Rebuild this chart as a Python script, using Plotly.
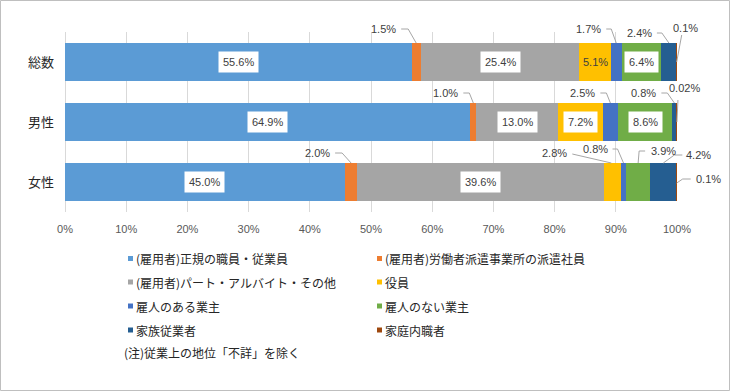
import plotly.graph_objects as go

# ---------------- data ----------------
categories = ["総数", "男性", "女性"]
series_names = [
    "(雇用者)正規の職員・従業員",
    "(雇用者)労働者派遣事業所の派遣社員",
    "(雇用者)パート・アルバイト・その他",
    "役員",
    "雇人のある業主",
    "雇人のない業主",
    "家族従業者",
    "家庭内職者",
]
seikiki = [55.6, 64.9, 45.0]
haken = [1.5, 1.0, 2.0]
part = [25.4, 13.0, 39.6]
yakuin = [5.1, 7.2, 2.8]
yatoi_ari = [1.7, 2.5, 0.8]
yatoi_nashi = [6.4, 8.6, 3.9]
kazoku = [2.4, 0.8, 4.2]
naishoku = [0.1, 0.02, 0.1]
value_labels = [
    ["55.6%", "64.9%", "45.0%"],
    ["1.5%", "1.0%", "2.0%"],
    ["25.4%", "13.0%", "39.6%"],
    ["5.1%", "7.2%", "2.8%"],
    ["1.7%", "2.5%", "0.8%"],
    ["6.4%", "8.6%", "3.9%"],
    ["2.4%", "0.8%", "4.2%"],
    ["0.1%", "0.02%", "0.1%"],
]
x_tick_vals = [0, 10, 20, 30, 40, 50, 60, 70, 80, 90, 100]
note_text = "(注)従業上の地位「不詳」を除く"

series_values = [seikiki, haken, part, yakuin, yatoi_ari, yatoi_nashi, kazoku, naishoku]

# ---------------- style ----------------
colors = ["#5B9BD5", "#ED7D31", "#A5A5A5", "#FFC000", "#4472C4", "#70AD47", "#255E91", "#9E480E"]
W, H = 731, 392
ML, MR, MT, MB = 65, 54, 32, 180
PW, PH = W - ML - MR, H - MT - MB
ypos = [2, 1, 0]
YMIN, YMAX = -0.5, 2.5
BAR_W = 0.62
JP = "Noto Sans CJK JP"
NUM = "Liberation Sans"
LBL_COLOR = "#404040"
LEADER = "#A6A6A6"

fig = go.Figure()
for name, vals, col in zip(series_names, series_values, colors):
    fig.add_trace(go.Bar(
        x=vals, y=ypos, orientation="h", name=name, width=BAR_W,
        marker=dict(color=col, line=dict(width=0)), showlegend=False,
        hovertemplate=name + ": %{x}<extra></extra>",
    ))

# normalized positions (100% stacked)
totals = [sum(s[i] for s in series_values) for i in range(3)]
centers = []
for si, vals in enumerate(series_values):
    row = []
    for ci in range(3):
        start = sum(series_values[k][ci] for k in range(si)) / totals[ci] * 100
        w = vals[ci] / totals[ci] * 100
        row.append(start + w / 2)
    centers.append(row)

# paper-coordinate helpers
def data_to_px(xd, yd):
    return ML + xd / 100.0 * PW, MT + (YMAX - yd) / (YMAX - YMIN) * PH

def paper_x(p):
    return (p - ML) / PW

def paper_y(q):
    return (MT + PH - q) / PH

annotations = []
shapes = []

# inside labels (large segments)
for si, vals in enumerate(series_values):
    for ci in range(3):
        if vals[ci] >= 5:
            boxed = vals[ci] >= 6
            annotations.append(dict(
                x=centers[si][ci], y=ypos[ci], xref="x", yref="y",
                text=value_labels[si][ci], showarrow=False,
                font=dict(family=NUM, size=11, color=LBL_COLOR),
                bgcolor="white" if boxed else "rgba(0,0,0,0)", borderpad=4,
            ))

# callouts: (series, category, leader points px rel to tip at bar centre, text offset px, xanchor)
callouts = [
    (1, 0, [(-15, -33), (-8, -33), (0, -19)], (-18, -33), "right"),
    (4, 0, [(-10, -33), (-5, -33), (0, -19)], (-13, -33), "right"),
    (6, 0, [(-12, -29), (-7, -29), (0, -19)], (-15, -29), "right"),
    (7, 0, [(5, -27), (0, 0)], (9, -34), "center"),
    (1, 1, [(-10, -29), (-4, -29), (0, -19)], (-13, -29), "right"),
    (4, 1, [(-10, -29), (-4, -29), (0, -19)], (-13, -29), "right"),
    (6, 1, [(-13, -29), (-7, -29), (0, -19)], (-16, -29), "right"),
    (7, 1, [(1, -22), (0, 0)], (8, -34), "center"),
    (1, 2, [(-16, -29), (-9, -29), (0, -19)], (-19, -29), "right"),
    (3, 2, [(-40, -28), (-1, -19)], (-43, -29), "right"),
    (4, 2, [(-11, -33), (-6, -33), (0, -19)], (-14, -33), "right"),
    (5, 2, [(7, -31), (1, -31), (0, -19)], (11, -31), "left"),
    (6, 2, [(19, -27), (11, -27), (0, -19)], (21, -27), "left"),
    (7, 2, [(14, -3), (6, -3), (0, 1)], (17, -3), "left"),
]
for si, ci, pts, toff, xa in callouts:
    tipx, tipy = data_to_px(centers[si][ci], ypos[ci])
    path = ""
    for k, (dx, dy) in enumerate(pts):
        path += ("M" if k == 0 else " L") + f"{paper_x(tipx + dx)},{paper_y(tipy + dy)}"
    shapes.append(dict(type="path", path=path, xref="paper", yref="paper",
                       line=dict(color=LEADER, width=1)))
    annotations.append(dict(
        x=paper_x(tipx + toff[0]), y=paper_y(tipy + toff[1]), xref="paper", yref="paper",
        text=value_labels[si][ci], showarrow=False, xanchor=xa, yanchor="middle",
        font=dict(family=NUM, size=11, color=LBL_COLOR),
    ))

# custom legend
leg_cols = [128, 377]
leg_rows = [258.5, 282, 306, 330]
for i, (name, col) in enumerate(zip(series_names, colors)):
    cx = leg_cols[i % 2]
    cy = leg_rows[i // 2]
    shapes.append(dict(type="rect", xref="paper", yref="paper",
                       x0=paper_x(cx), x1=paper_x(cx + 5),
                       y0=paper_y(cy + 2.5), y1=paper_y(cy - 2.5),
                       fillcolor=col, line=dict(width=0)))
    annotations.append(dict(
        x=paper_x(cx + 5.5), y=paper_y(cy), xref="paper", yref="paper",
        text=name, showarrow=False, xanchor="left", yanchor="middle",
        font=dict(family=JP, size=12, color="#262626"),
    ))
annotations.append(dict(
    x=paper_x(122), y=paper_y(352), xref="paper", yref="paper",
    text=note_text, showarrow=False, xanchor="left", yanchor="middle",
    font=dict(family=JP, size=12, color="#262626"),
))

# outer chart border
shapes.append(dict(type="rect", xref="paper", yref="paper",
                   x0=paper_x(0.5), x1=paper_x(W - 1.5),
                   y0=paper_y(H - 1.5), y1=paper_y(0.5),
                   line=dict(color="#BFBFBF", width=1), fillcolor="rgba(0,0,0,0)",
                   layer="below"))

fig.update_layout(
    width=W, height=H,
    margin=dict(l=ML, r=MR, t=MT, b=MB, pad=0),
    barmode="stack", barnorm="percent",
    paper_bgcolor="white", plot_bgcolor="white",
    showlegend=False,
    xaxis=dict(range=[0, 100], tickvals=x_tick_vals,
               ticktext=[f"{v}%" for v in x_tick_vals],
               showgrid=True, gridcolor="#D9D9D9", gridwidth=1,
               zeroline=True, zerolinecolor="#D9D9D9", zerolinewidth=1,
               showline=False, ticks="", ticklabelstandoff=9,
               tickfont=dict(family=NUM, size=11, color="#595959"), fixedrange=True),
    yaxis=dict(range=[YMIN, YMAX], tickvals=ypos, ticktext=categories,
               showgrid=False, zeroline=False, showline=False, ticks="",
               ticklabelstandoff=10,
               tickfont=dict(family=JP, size=13, color="#262626"), fixedrange=True),
    annotations=annotations, shapes=shapes,
)

fig.write_html(
    "out.html",
    config={"displayModeBar": False},
    post_script="document.body.style.margin='0';document.body.style.padding='0';",
)
